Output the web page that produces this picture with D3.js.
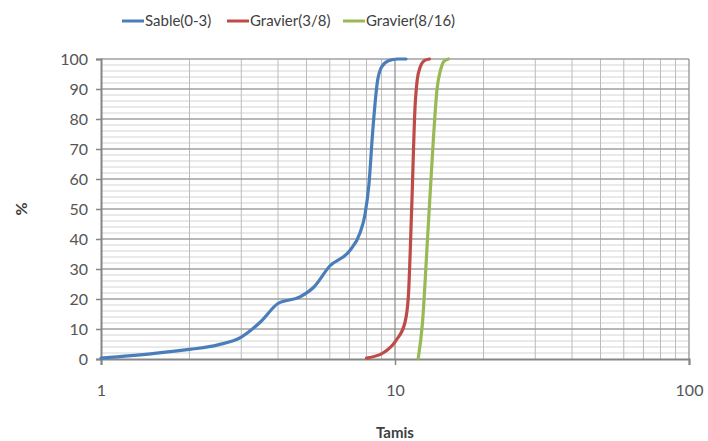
<!DOCTYPE html>
<html>
<head>
<meta charset="utf-8">
<script src="https://cdn.jsdelivr.net/npm/d3@7"></script>
<style>
  body { margin: 0; background: #fff; }
  text { font-family: Lato, "Open Sans", sans-serif; }
</style>
</head>
<body>
<div id="chart"></div>
<script>
var seriesNames = ["Sable(0-3)", "Gravier(3/8)", "Gravier(8/16)"];
var seriesColors = ["#4a7ebb", "#be4b48", "#98b954"];

// tamis (mm) / passant (%)
var sableX = [1, 1.5, 2, 2.5, 3, 3.5, 4, 4.75, 5.3, 6, 7, 7.6, 7.9, 8.15, 8.4, 8.7, 9.0, 9.5, 10.2, 10.9];
var sableY = [0.3, 1.8, 3.2, 4.7, 7.3, 12.5, 18.5, 20.7, 24, 31, 36, 42, 48, 58, 76, 92, 97.3, 99.4, 100, 100];
var grav38X = [8, 9.1, 10.1, 10.8, 11.1, 11.4, 11.7, 11.9, 12.2, 12.6, 13.1];
var grav38Y = [0.3, 2, 6.3, 12, 20.7, 50.7, 84, 93, 97.5, 99.5, 100];
var grav816X = [12, 12.4, 12.9, 13.5, 13.9, 14.3, 14.7, 15.2];
var grav816Y = [0.3, 12, 40, 73, 90, 96.5, 99.3, 100];

var xTicks = [1, 10, 100];
var yTicks = [0, 10, 20, 30, 40, 50, 60, 70, 80, 90, 100];

var series = [
  {name: seriesNames[0], color: seriesColors[0], x: sableX, y: sableY},
  {name: seriesNames[1], color: seriesColors[1], x: grav38X, y: grav38Y},
  {name: seriesNames[2], color: seriesColors[2], x: grav816X, y: grav816Y}
];

var margin = {top: 59, right: 19, bottom: 82, left: 101},
    width = 708,
    height = 441,
    chartWidth = width - margin.left - margin.right,
    chartHeight = height - margin.top - margin.bottom;

var svg = d3.select("#chart").append("svg")
    .attr("width", width)
    .attr("height", height);

var x = d3.scaleLog().domain([1, 100]).range([0, chartWidth]);
var y = d3.scaleLinear().domain([0, 100]).range([chartHeight, 0]);

var g = svg.append("g")
    .attr("transform", "translate(" + margin.left + "," + margin.top + ")");

// minor horizontal grid
g.append("g").selectAll("line")
    .data(d3.range(0, 101, 2).filter(function(d) { return d % 10 !== 0; }))
  .enter().append("line")
    .attr("x1", 0).attr("x2", chartWidth)
    .attr("y1", function(d) { return y(d); })
    .attr("y2", function(d) { return y(d); })
    .attr("stroke", "#d4d4d4").attr("stroke-width", 1);

// minor vertical grid (log)
var minorX = [];
[1, 10].forEach(function(dec) {
  for (var i = 2; i <= 9; i++) minorX.push(dec * i);
});
g.append("g").selectAll("line")
    .data(minorX)
  .enter().append("line")
    .attr("x1", function(d) { return x(d); })
    .attr("x2", function(d) { return x(d); })
    .attr("y1", 0).attr("y2", chartHeight)
    .attr("stroke", "#bcbcbc").attr("stroke-width", 1);

// major horizontal grid
g.append("g").selectAll("line")
    .data(yTicks.slice(1))
  .enter().append("line")
    .attr("x1", 0).attr("x2", chartWidth)
    .attr("y1", function(d) { return y(d); })
    .attr("y2", function(d) { return y(d); })
    .attr("stroke", "#a0a0a0").attr("stroke-width", 1.3);

// major vertical grid
g.append("g").selectAll("line")
    .data(xTicks.slice(1))
  .enter().append("line")
    .attr("x1", function(d) { return x(d); })
    .attr("x2", function(d) { return x(d); })
    .attr("y1", 0).attr("y2", chartHeight)
    .attr("stroke", "#8a8a8a").attr("stroke-width", 1.2);

// axes
var yAxis = g.append("g")
    .attr("class", "y axis")
    .call(d3.axisLeft(y).tickValues(yTicks).tickSize(5).tickPadding(8));

var xAxis = g.append("g")
    .attr("class", "x axis")
    .attr("transform", "translate(0," + chartHeight + ")")
    .call(d3.axisBottom(x).tickValues(xTicks).tickFormat(d3.format("d")).tickSize(6).tickPadding(20));

[yAxis, xAxis].forEach(function(a) {
  a.select(".domain").attr("stroke", "#868686").attr("stroke-width", 2);
  a.selectAll(".tick line").attr("stroke", "#868686").attr("stroke-width", 1.5);
  a.selectAll(".tick text")
      .attr("fill", "#555")
      .style("font-size", "16px")
      .style("font-family", "Lato, 'Open Sans', sans-serif");
});

// curves
var line = d3.line()
    .x(function(d) { return x(d[0]); })
    .y(function(d) { return y(d[1]); })
    .curve(d3.curveMonotoneX);

g.selectAll(".serie")
    .data(series)
  .enter().append("path")
    .attr("class", "serie")
    .attr("fill", "none")
    .attr("stroke", function(d) { return d.color; })
    .attr("stroke-width", 3.2)
    .attr("stroke-linejoin", "round")
    .attr("stroke-linecap", "round")
    .attr("d", function(d) {
      return line(d.x.map(function(v, i) { return [v, d.y[i]]; }));
    });

// axis titles
svg.append("text")
    .attr("transform", "translate(27," + (margin.top + chartHeight / 2) + ") rotate(-90)")
    .attr("text-anchor", "middle")
    .attr("fill", "#404040")
    .style("font-size", "16px")
    .style("font-weight", "bold")
    .text("%");

svg.append("text")
    .attr("x", margin.left + x(10))
    .attr("y", 438)
    .attr("text-anchor", "middle")
    .attr("fill", "#404040")
    .style("font-size", "15px")
    .style("font-weight", "bold")
    .text("Tamis");

// legend
var legendX = [122, 227, 343];
var legend = svg.append("g").selectAll("g")
    .data(series)
  .enter().append("g")
    .attr("transform", function(d, i) { return "translate(" + legendX[i] + ",21)"; });

legend.append("line")
    .attr("x1", 0).attr("x2", 22)
    .attr("stroke", function(d) { return d.color; })
    .attr("stroke-width", 3);

legend.append("text")
    .attr("x", 23)
    .attr("dy", "0.35em")
    .attr("fill", "#404040")
    .style("font-size", "15px")
    .text(function(d) { return d.name; });
</script>
</body>
</html>
